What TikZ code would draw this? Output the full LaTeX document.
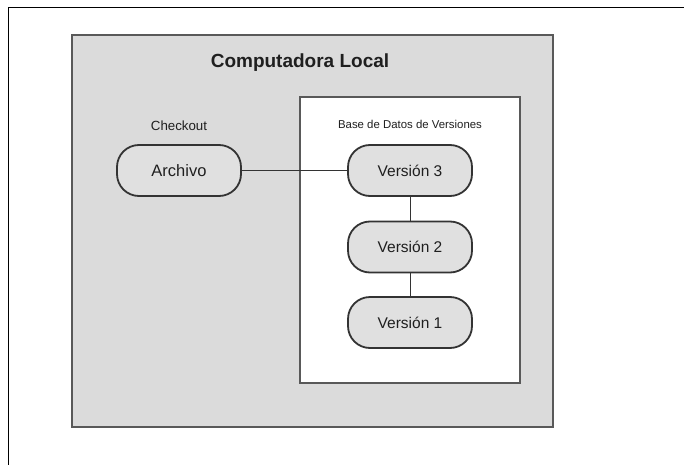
\documentclass[tikz,border=0pt]{standalone}
\usepackage{fontspec}
\setmainfont{Liberation Sans}
\begin{document}
\begin{tikzpicture}[x=1pt,y=-1pt,
  frameline/.style={draw=black,line width=1.5pt},
  graybox/.style={draw=black!65,fill=black!14,line width=1.3pt},
  whitebox/.style={draw=black!65,fill=white,line width=1.3pt},
  pill/.style={draw=black!80,fill=black!12,line width=1.8pt,rounded corners=22pt,
    minimum width=124pt,minimum height=51pt,inner sep=0pt,text=black!88,
    font=\fontsize{15.5}{18}\selectfont},
  conn/.style={draw=black!80,line width=1pt},
  lbl/.style={text=black!88,inner sep=0pt}]
\useasboundingbox (0,0) rectangle (684,465);
\fill[white] (0,0) rectangle (684,465);
\draw[frameline] (684,7.5) -- (8.5,7.5) -- (8.5,465);
\draw[graybox] (72,35) rectangle (553,427);
\draw[whitebox] (300,97) rectangle (520,383);
\node[lbl,font=\bfseries\fontsize{19}{22}\selectfont] (title) at (300,63) {Computadora Local};
\node[lbl,font=\fontsize{13.3}{16}\selectfont] (chk) at (179,126) {Checkout};
\node[lbl,font=\fontsize{11.4}{14}\selectfont] (db) at (410,124) {Base de Datos de Versiones};
\node[pill,font=\fontsize{16.5}{19}\selectfont] (arch) at (179,170.5) {Archivo};
\node[pill] (v3) at (410,170.5) {Versión 3};
\node[pill] (v2) at (410,247) {Versión 2};
\node[pill] (v1) at (410,322.5) {Versión 1};
\draw[conn] (arch.east) -- (v3.west);
\draw[conn] (v3.south) -- (v2.north);
\draw[conn] (v2.south) -- (v1.north);
\end{tikzpicture}
\end{document}
